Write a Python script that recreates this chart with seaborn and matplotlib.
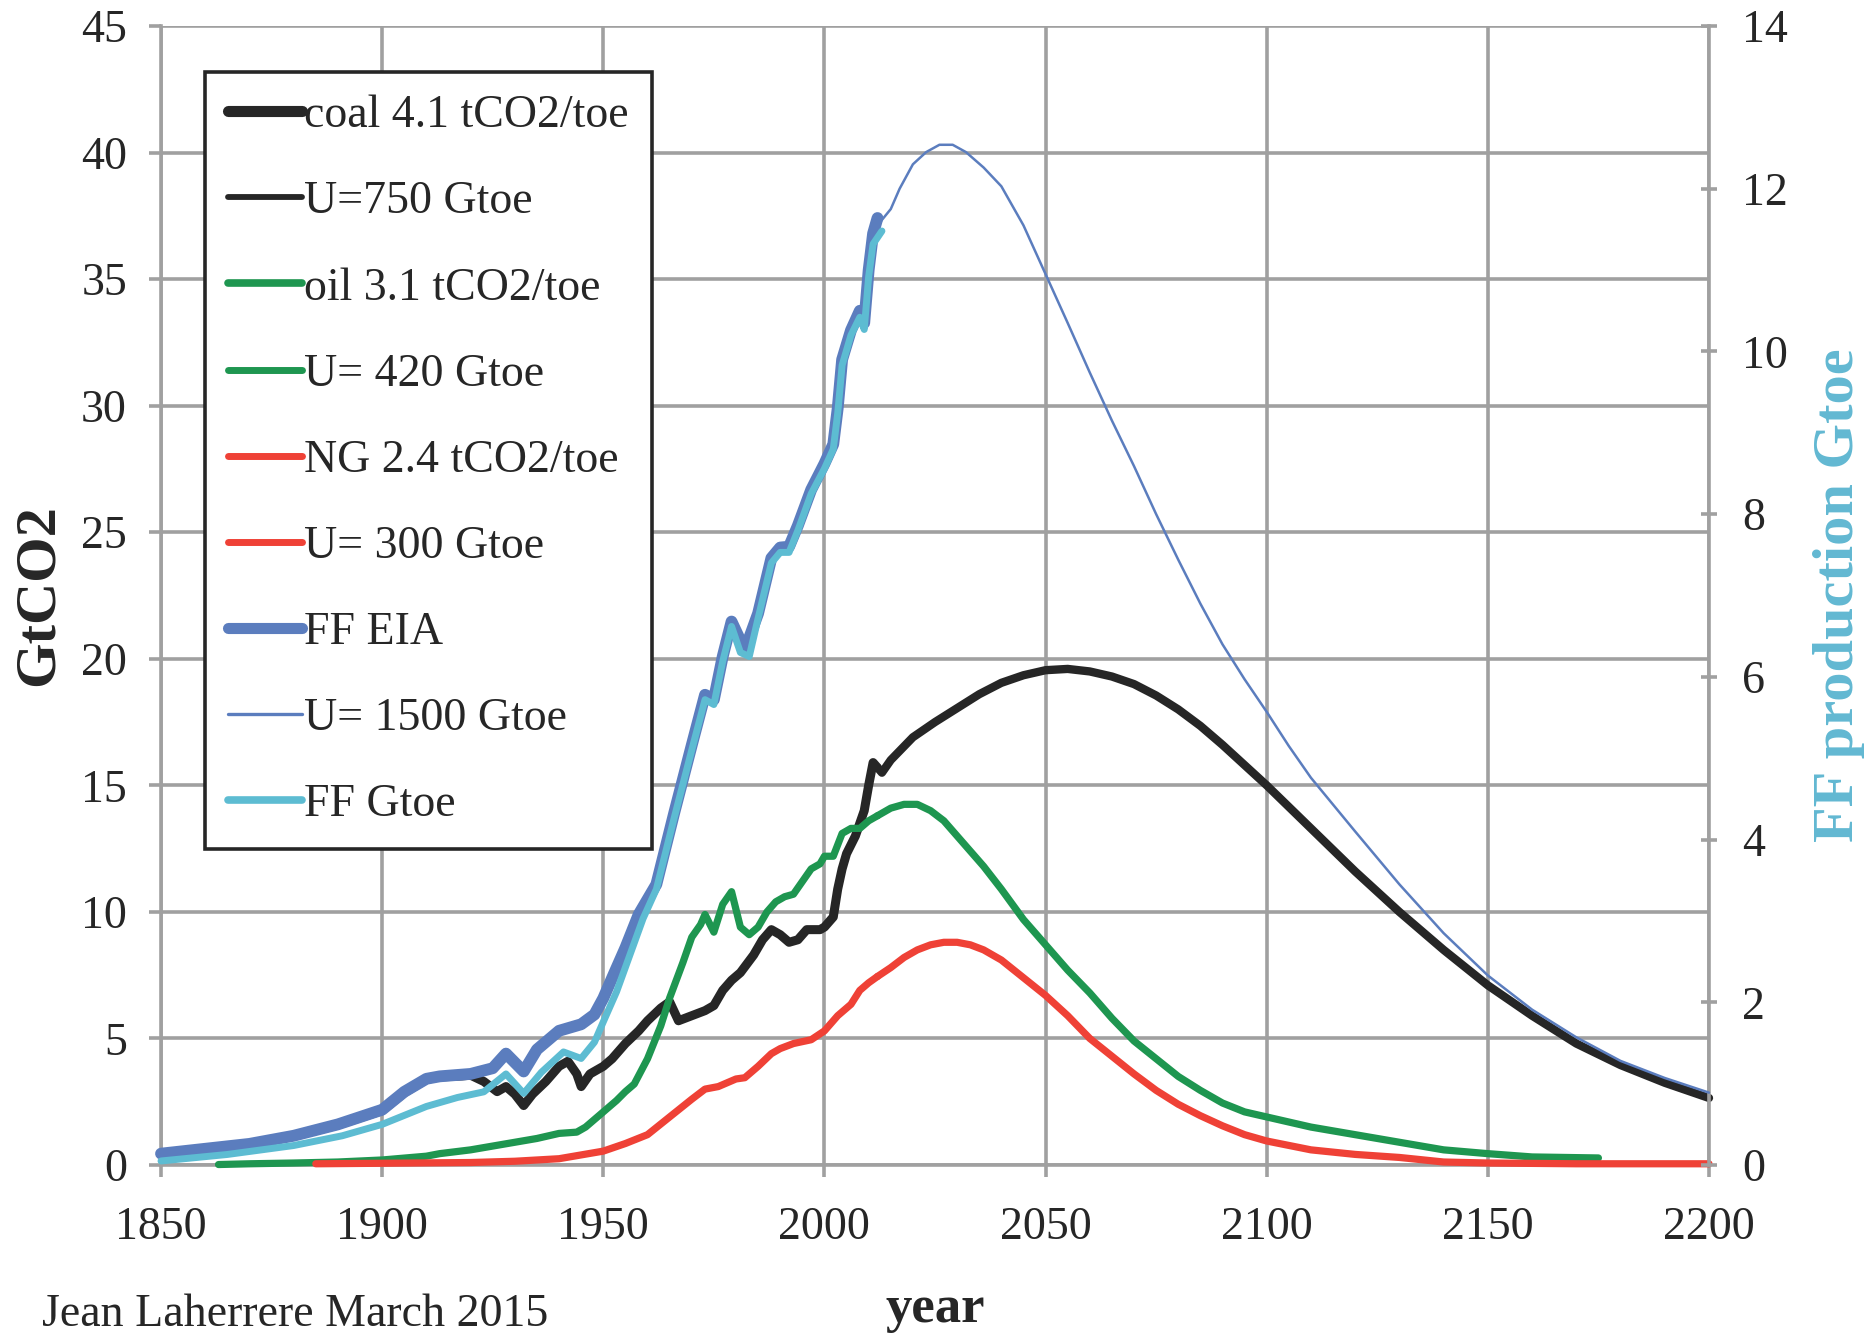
import numpy as np
import pandas as pd
import matplotlib
matplotlib.use("Agg")
import matplotlib.pyplot as plt
from matplotlib.lines import Line2D
import seaborn as sns

# ---------------- data ----------------
coal_years = [1850, 1860, 1870, 1880, 1890, 1900, 1905, 1910, 1913, 1918, 1920, 1923, 1926, 1928, 1930,
              1932, 1934, 1937, 1940, 1942, 1944, 1945, 1947, 1950, 1952, 1955, 1958, 1960, 1963, 1965,
              1967, 1970, 1973, 1975, 1977, 1979, 1981, 1984, 1986, 1988, 1990, 1992, 1994, 1996, 1999,
              2000, 2002, 2003, 2004, 2005, 2007, 2009, 2010, 2011, 2012]
coal_gtco2 = [0.44, 0.63, 0.83, 1.14, 1.58, 2.15, 2.85, 3.38, 3.48, 3.52, 3.55, 3.3, 2.9, 3.1, 2.8,
              2.35, 2.8, 3.3, 3.9, 4.1, 3.6, 3.1, 3.6, 3.9, 4.2, 4.8, 5.3, 5.7, 6.2, 6.45,
              5.7, 5.9, 6.1, 6.3, 6.9, 7.3, 7.6, 8.3, 8.9, 9.3, 9.1, 8.8, 8.9, 9.3, 9.3,
              9.4, 9.8, 10.9, 11.7, 12.3, 13.0, 14.0, 15.0, 15.9, 15.7]

coal_u750_years = [2012, 2013, 2015, 2020, 2025, 2030, 2035, 2040, 2045, 2050, 2055, 2060, 2065, 2070,
                   2075, 2080, 2085, 2090, 2095, 2100, 2110, 2120, 2130, 2140, 2150, 2160, 2170, 2180,
                   2190, 2200]
coal_u750_gtco2 = [15.7, 15.5, 16.0, 16.9, 17.5, 18.05, 18.6, 19.05, 19.35, 19.55, 19.6, 19.5, 19.3, 19.0,
                   18.55, 18.0, 17.35, 16.6, 15.8, 15.0, 13.3, 11.6, 10.0, 8.5, 7.1, 5.9, 4.8, 3.95,
                   3.25, 2.65]

oil_years = [1863, 1870, 1880, 1890, 1900, 1910, 1913, 1920, 1925, 1930, 1935, 1940, 1944, 1946, 1948,
             1950, 1953, 1955, 1957, 1960, 1963, 1965, 1968, 1970, 1972, 1973, 1975, 1977, 1979, 1981,
             1983, 1985, 1987, 1989, 1991, 1993, 1995, 1997, 1999, 2000, 2002, 2004, 2006, 2008, 2010,
             2012]
oil_gtco2 = [0.02, 0.05, 0.08, 0.12, 0.2, 0.35, 0.45, 0.6, 0.75, 0.9, 1.05, 1.25, 1.3, 1.5, 1.8,
             2.1, 2.55, 2.9, 3.2, 4.2, 5.5, 6.6, 8.0, 9.0, 9.5, 9.9, 9.2, 10.3, 10.8, 9.4,
             9.1, 9.4, 10.0, 10.4, 10.6, 10.7, 11.2, 11.7, 11.9, 12.2, 12.2, 13.1, 13.3, 13.3, 13.6,
             13.8]

oil_u420_years = [2012, 2015, 2018, 2021, 2024, 2027, 2030, 2033, 2036, 2040, 2045, 2050, 2055, 2060,
                  2065, 2070, 2075, 2080, 2085, 2090, 2095, 2100, 2110, 2120, 2130, 2140, 2150, 2160,
                  2175]
oil_u420_gtco2 = [13.8, 14.1, 14.25, 14.25, 14.0, 13.6, 13.0, 12.4, 11.8, 10.9, 9.7, 8.7, 7.7, 6.8,
                  5.8, 4.9, 4.2, 3.5, 2.95, 2.45, 2.1, 1.9, 1.5, 1.2, 0.9, 0.6, 0.45, 0.32,
                  0.28]

ng_years = [1885, 1900, 1920, 1930, 1940, 1945, 1950, 1955, 1960, 1965, 1970, 1973, 1976, 1980, 1982,
            1985, 1988, 1990, 1993, 1997, 2000, 2003, 2006, 2008, 2010, 2012]
ng_gtco2 = [0.05, 0.07, 0.1, 0.15, 0.25, 0.4, 0.55, 0.85, 1.2, 1.9, 2.6, 3.0, 3.1, 3.4, 3.45,
            3.9, 4.4, 4.6, 4.8, 4.95, 5.3, 5.9, 6.35, 6.9, 7.2, 7.45]

ng_u300_years = [2012, 2015, 2018, 2021, 2024, 2027, 2030, 2033, 2036, 2040, 2045, 2050, 2055, 2060,
                 2065, 2070, 2075, 2080, 2085, 2090, 2095, 2100, 2110, 2120, 2130, 2140, 2150, 2170,
                 2200]
ng_u300_gtco2 = [7.45, 7.8, 8.2, 8.5, 8.7, 8.8, 8.8, 8.7, 8.5, 8.1, 7.4, 6.7, 5.9, 5.0,
                 4.3, 3.6, 2.95, 2.4, 1.95, 1.55, 1.2, 0.95, 0.6, 0.42, 0.3, 0.12, 0.08, 0.05,
                 0.05]

ff_eia_years = [1850, 1860, 1870, 1880, 1890, 1900, 1905, 1910, 1913, 1920, 1925, 1928, 1932, 1935,
                1940, 1945, 1948, 1950, 1952, 1955, 1958, 1962, 1966, 1970, 1973, 1975, 1977, 1979,
                1982, 1985, 1988, 1990, 1992, 1994, 1997, 2000, 2002, 2003, 2004, 2006, 2008, 2009,
                2010, 2011, 2012]
ff_eia_gtoe = [0.14, 0.2, 0.26, 0.36, 0.5, 0.68, 0.9, 1.06, 1.09, 1.12, 1.19, 1.37, 1.15, 1.42,
               1.65, 1.73, 1.85, 2.05, 2.3, 2.67, 3.08, 3.45, 4.32, 5.16, 5.78, 5.72, 6.25, 6.68,
               6.33, 6.78, 7.46, 7.59, 7.6, 7.86, 8.3, 8.62, 8.86, 9.3, 9.9, 10.26, 10.5, 10.35,
               11.0, 11.45, 11.64]

ff_u1500_years = [2012, 2015, 2017, 2020, 2023, 2026, 2029, 2032, 2036, 2040, 2045, 2050, 2055, 2060,
                  2065, 2070, 2075, 2080, 2085, 2090, 2095, 2100, 2105, 2110, 2120, 2130, 2140, 2150,
                  2160, 2170, 2180, 2190, 2200]
ff_u1500_gtoe = [11.55, 11.75, 12.0, 12.3, 12.45, 12.54, 12.54, 12.45, 12.26, 12.03, 11.55, 10.95,
                 10.35, 9.74, 9.15, 8.59, 8.0, 7.44, 6.9, 6.4, 5.97, 5.57, 5.15, 4.76, 4.1, 3.45,
                 2.85, 2.33, 1.91, 1.57, 1.28, 1.07, 0.89]

ff_years = [1850, 1865, 1880, 1891, 1900, 1910, 1917, 1923, 1928, 1932, 1936, 1941, 1945, 1948,
            1950, 1953, 1956, 1959, 1962, 1966, 1970, 1973, 1975, 1977, 1979, 1981, 1983, 1985,
            1988, 1990, 1992, 1994, 1997, 2000, 2002, 2003, 2004, 2006, 2008, 2009, 2010, 2011,
            2013]
ff_gtoe = [0.05, 0.13, 0.24, 0.36, 0.5, 0.72, 0.83, 0.9, 1.12, 0.88, 1.14, 1.39, 1.31, 1.51,
           1.76, 2.13, 2.58, 3.03, 3.39, 4.26, 5.1, 5.72, 5.66, 6.19, 6.62, 6.3, 6.25, 6.72,
           7.4, 7.53, 7.53, 7.8, 8.25, 8.56, 8.8, 9.24, 9.83, 10.2, 10.42, 10.27, 10.92, 11.32,
           11.48]

x_ticks = [1850, 1900, 1950, 2000, 2050, 2100, 2150, 2200]
left_ticks = [0, 5, 10, 15, 20, 25, 30, 35, 40, 45]
right_ticks = [0, 2, 4, 6, 8, 10, 12, 14]

labels = ["coal 4.1 tCO2/toe", "U=750 Gtoe", "oil 3.1 tCO2/toe", "U= 420 Gtoe",
          "NG 2.4 tCO2/toe", "U= 300 Gtoe", "FF EIA", "U= 1500 Gtoe", "FF Gtoe"]

# ---------------- style ----------------
sns.set_theme(style="white")
plt.rcParams['font.family'] = ['Liberation Serif', 'DejaVu Serif']
TXT = '#262626'
GRID = '#a0a0a0'
C_COAL = '#262626'
C_OIL = '#1E9650'
C_NG = '#EF4136'
C_EIA = '#5B7DBE'
C_FF = '#5DBCD2'

fig = plt.figure(figsize=(18.7, 13.33), dpi=100)
ax = fig.add_axes([0.0861, 0.1260, 0.8278, 0.8545])
ax2 = ax.twinx()

def draw(axis, xs, ys, color, lw, z):
    df = pd.DataFrame({"x": xs, "y": ys})
    sns.lineplot(data=df, x="x", y="y", ax=axis, color=color, linewidth=lw,
                 legend=False, estimator=None, sort=False)
    ln = axis.lines[-1]
    ln.set_clip_on(False)
    ln.set_zorder(z)
    ln.set_solid_joinstyle('round')
    return ln

draw(ax, coal_years, coal_gtco2, C_COAL, 6.5, 3)
draw(ax, coal_u750_years, coal_u750_gtco2, C_COAL, 6.0, 3)
draw(ax, oil_years, oil_gtco2, C_OIL, 5.2, 3)
draw(ax, oil_u420_years, oil_u420_gtco2, C_OIL, 5.2, 3)
draw(ax, ng_years, ng_gtco2, C_NG, 5.2, 3)
draw(ax, ng_u300_years, ng_u300_gtco2, C_NG, 5.2, 3)

draw(ax2, ff_eia_years, ff_eia_gtoe, C_EIA, 8.5, 3)
draw(ax2, ff_u1500_years, ff_u1500_gtoe, C_EIA, 1.8, 3)
draw(ax2, ff_years, ff_gtoe, C_FF, 5.0, 4)

# axes limits / ticks
ax.set_xlim(1850, 2200)
ax.set_ylim(0, 45)
ax2.set_ylim(0, 14)
ax.set_xticks(x_ticks)
ax.set_yticks(left_ticks)
ax2.set_yticks(right_ticks)

ax.grid(True, color=GRID, linewidth=2.6)
ax.set_axisbelow(True)
ax2.grid(False)

for s in ['top', 'right']:
    ax.spines[s].set_visible(False)
for s in ['left', 'bottom']:
    ax.spines[s].set_color(GRID)
    ax.spines[s].set_linewidth(2.6)
for s in ['top', 'left', 'bottom']:
    ax2.spines[s].set_visible(False)
ax2.spines['right'].set_color(GRID)
ax2.spines['right'].set_linewidth(2.6)

ax.tick_params(axis='y', direction='out', length=8.5, width=2.6, color=GRID, pad=16,
               labelsize=33, labelcolor=TXT, left=True)
ax.tick_params(axis='x', direction='out', length=8.5, width=2.6, color=GRID, pad=21,
               labelsize=33, labelcolor=TXT, bottom=True)
ax2.tick_params(axis='y', direction='inout', length=11.5, width=2.6, color=GRID, pad=18,
                labelsize=33, labelcolor=TXT, right=True, left=False,
                labelright=True, labelleft=False)
for t in ax2.get_yticklabels():
    t.set_horizontalalignment('left')

ax.set_xlabel("year", fontsize=38, fontweight='bold', color=TXT, labelpad=26)
ax.set_ylabel("GtCO2", fontsize=42, fontweight='bold', color=TXT, labelpad=12)
ax2.set_ylabel("FF production Gtoe", fontsize=42, fontweight='bold', color='#62B8D2',
               labelpad=18)

fig.text(42 / 1870, 0.005, "Jean Laherrere March 2015", fontsize=33, color=TXT,
         ha='left', va='baseline')

# legend
handles = [
    Line2D([], [], color=C_COAL, lw=8.0, solid_capstyle='round'),
    Line2D([], [], color=C_COAL, lw=4.2),
    Line2D([], [], color=C_OIL, lw=5.5, solid_capstyle='round'),
    Line2D([], [], color=C_OIL, lw=5.0),
    Line2D([], [], color=C_NG, lw=5.0, solid_capstyle='round'),
    Line2D([], [], color=C_NG, lw=5.0),
    Line2D([], [], color=C_EIA, lw=8.0, solid_capstyle='round'),
    Line2D([], [], color=C_EIA, lw=2.4),
    Line2D([], [], color=C_FF, lw=5.5),
]
leg = ax2.legend(handles, labels, loc='upper left', bbox_to_anchor=(0.0284, 0.9596),
                 borderaxespad=0, fontsize=33, handlelength=1.62, handletextpad=0.05,
                 labelspacing=0.95, borderpad=0.5, frameon=True, fancybox=False,
                 framealpha=1, edgecolor=TXT, facecolor='white')
leg.get_frame().set_linewidth(2.6)
leg.set_zorder(10)
for t in leg.get_texts():
    t.set_color(TXT)

fig.savefig("out.png", dpi=100)
